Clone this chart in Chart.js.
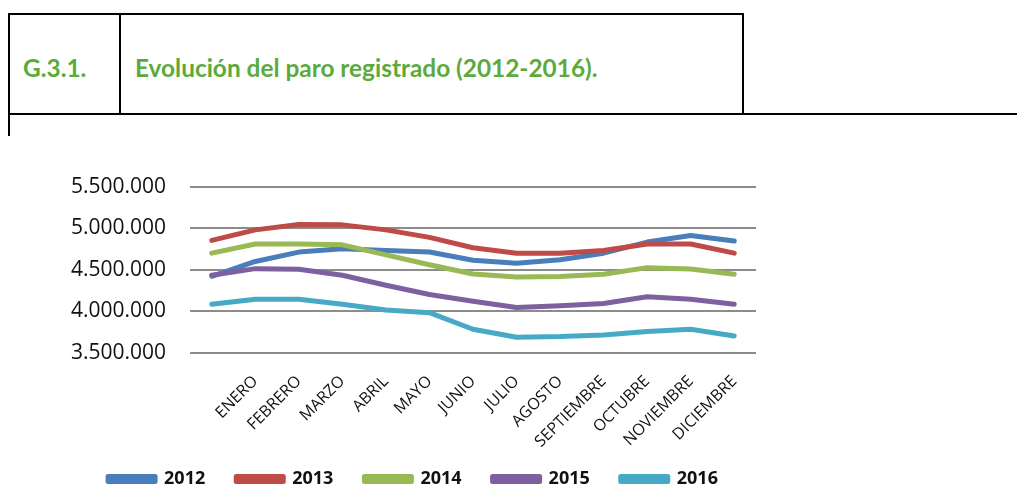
<!DOCTYPE html>
<html>
<head>
<meta charset="utf-8">
<script src="https://cdn.jsdelivr.net/npm/chart.js@4.4.1/dist/chart.umd.min.js"></script>
<style>
  body { margin: 0; background: #fff; width: 1017px; height: 487px; overflow: hidden; position: relative; }
  .ln { position: absolute; background: #000; }
  .hd { position: absolute; color: #5bab3c; font-family: Lato, sans-serif; font-weight: bold; font-size: 24.4px; line-height: 24px; top: 56px; }
  #wrap { position: absolute; left: 0; top: 150px; width: 770px; height: 347px; }
</style>
</head>
<body>
  <!-- header table lines -->
  <div class="ln" style="left:8px;top:13px;width:736px;height:2px"></div>
  <div class="ln" style="left:8px;top:113px;width:1009px;height:2px"></div>
  <div class="ln" style="left:8px;top:13px;width:2px;height:123px"></div>
  <div class="ln" style="left:119px;top:13px;width:2px;height:101px"></div>
  <div class="ln" style="left:742px;top:13px;width:2px;height:101px"></div>
  <div class="hd" style="left:23px">G.3.1.</div>
  <div class="hd" style="left:135px">Evolución del paro registrado (2012-2016).</div>

  <div id="wrap"><canvas id="paroChart"></canvas></div>

<script>
// first category has no label in the original sheet
const months = ['', 'ENERO', 'FEBRERO', 'MARZO', 'ABRIL', 'MAYO', 'JUNIO', 'JULIO',
  'AGOSTO', 'SEPTIEMBRE', 'OCTUBRE', 'NOVIEMBRE', 'DICIEMBRE'];

const years = ['2012', '2013', '2014', '2015', '2016'];

const paro2012 = [4422000, 4600000, 4713000, 4753000, 4733000, 4713000, 4614000, 4580000, 4620000, 4700000, 4833000, 4913000, 4845000];
const paro2013 = [4853000, 4980000, 5044000, 5040000, 4980000, 4890000, 4765000, 4700000, 4700000, 4733000, 4810000, 4810000, 4700000];
const paro2014 = [4700000, 4810000, 4810000, 4800000, 4680000, 4560000, 4450000, 4414000, 4420000, 4446000, 4526000, 4510000, 4446000];
const paro2015 = [4434000, 4514000, 4506000, 4434000, 4314000, 4203000, 4123000, 4047000, 4067000, 4096000, 4175000, 4147000, 4087000];
const paro2016 = [4087000, 4147000, 4147000, 4087000, 4016000, 3985000, 3785000, 3689000, 3697000, 3717000, 3757000, 3785000, 3705000];

const yTicks = [3500000, 4000000, 4500000, 5000000, 5500000];

const colors = ['#4a7ebb', '#be4b48', '#98b954', '#7d60a0', '#46aac5'];

function fmt(v) {
  return String(v).replace(/\B(?=(\d{3})+(?!\d))/g, '.');
}

// let the rotated month labels run into the empty space above the legend
const noLabelClip = {
  id: 'noLabelClip',
  beforeDraw(chart) {
    chart.scales.x._computeLabelArea = () => undefined;
  }
};

document.addEventListener('DOMContentLoaded', function() {
  const series = [paro2012, paro2013, paro2014, paro2015, paro2016];
  const ctx = document.getElementById('paroChart').getContext('2d');

  new Chart(ctx, {
    type: 'line',
    data: {
      labels: months,
      datasets: series.map((data, i) => ({
        label: years[i],
        data: data,
        borderColor: colors[i],
        backgroundColor: colors[i],
        borderWidth: 5,
        borderCapStyle: 'round',
        borderJoinStyle: 'round',
        pointRadius: 0,
        tension: 0,
        order: series.length - i   // later years on top, like Excel
      }))
    },
    plugins: [noLabelClip],
    options: {
      responsive: true,
      maintainAspectRatio: false,
      animation: false,
      layout: { padding: { left: 70, right: 14, top: 24, bottom: 0 } },
      scales: {
        x: {
          offset: true,
          grid: { display: false },
          border: { display: false },
          afterFit: axis => { axis.height = 86; },
          ticks: {
            autoSkip: false,
            maxRotation: 45,
            minRotation: 45,
            padding: 11,
            color: '#111',
            font: { family: 'Open Sans', size: 16 }
          }
        },
        y: {
          min: yTicks[0],
          max: yTicks[yTicks.length - 1],
          afterBuildTicks: axis => { axis.ticks = yTicks.map(v => ({ value: v })); },
          afterFit: axis => { axis.width = 120; },
          grid: { color: '#8c8c8c', lineWidth: 2, drawTicks: false },
          border: { display: false },
          ticks: {
            padding: 24,
            color: '#111',
            font: { family: 'Open Sans', size: 21 },
            callback: v => fmt(v)
          }
        }
      },
      plugins: {
        legend: {
          position: 'bottom',
          maxHeight: 58,
          labels: {
            boxWidth: 47,
            boxHeight: 5,
            padding: 31,
            color: '#111',
            font: { family: 'Open Sans', size: 18, weight: 'bold' },
            sort: (a, b) => a.datasetIndex - b.datasetIndex
          }
        },
        tooltip: { enabled: false }
      }
    }
  });
});
</script>
</body>
</html>
